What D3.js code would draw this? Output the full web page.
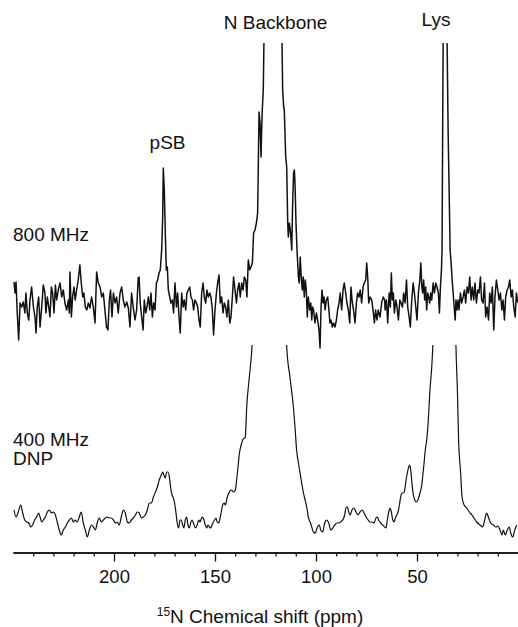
<!DOCTYPE html>
<html>
<head>
<meta charset="utf-8">
<script src="https://cdn.jsdelivr.net/npm/d3@7"></script>
<style>
  html, body { margin: 0; padding: 0; background: #fff; }
  svg { display: block; }
  text { font-family: "Liberation Sans", Arial, sans-serif; fill: #111; }
</style>
</head>
<body>
<svg id="chart" width="518" height="627"></svg>
<script>
// ---------- DATA ----------
// 800 MHz spectrum: chemical shift (ppm) and intensity (a.u.)
const shift800 = [
249.5,249.0,248.5,247.9,247.2,246.5,245.7,244.9,244.1,243.6,242.9,242.2,241.6,240.8,239.9,239.1,238.6,238.0,237.3,236.6,
235.8,235.0,234.2,233.7,233.0,232.3,231.7,231.0,230.4,229.7,229.0,228.4,227.6,226.7,225.9,225.1,224.3,223.4,222.6,222.1,
221.8,221.1,220.5,219.8,219.2,218.5,217.7,216.9,216.2,215.5,214.9,214.2,213.5,212.7,211.9,211.1,210.2,209.4,208.6,207.8,
206.9,206.1,205.3,204.5,203.7,203.0,202.3,201.7,201.0,200.3,199.5,198.7,197.9,197.0,196.2,195.4,194.6,193.7,192.9,192.1,
191.3,190.5,189.6,188.8,188.0,
187.6,187.0,186.3,185.6,185.0,184.3,183.7,183.0,182.3,181.7,181.0,180.4,179.7,179.0,178.4,177.7,177.1,176.4,175.9,175.6,
175.1,174.6,174.1,173.6,173.1,172.4,171.8,171.1,170.5,169.8,169.1,168.5,167.8,167.2,166.5,165.8,165.2,164.5,163.9,163.2,
162.5,161.9,161.2,160.6,159.9,159.2,158.6,157.9,157.3,156.6,155.9,155.3,154.6,154.0,153.3,152.6,152.0,151.3,150.7,150.0,
149.3,148.7,148.0,147.4,146.7,146.0,145.4,144.7,144.1,143.4,142.7,142.1,141.4,140.8,140.1,139.4,138.8,138.1,137.5,136.8,
136.1,135.5,134.8,134.2,133.5,132.8,132.2,131.5,130.9,130.2,129.5,
128.9,128.5,128.2,127.7,127.2,126.9,126.6,126.1,125.5,124.5,122.5,120.5,118.5,117.3,
116.5,116.0,115.7,115.0,114.5,114.0,113.7,113.2,112.7,112.0,111.6,111.1,110.7,110.4,109.9,109.4,108.7,108.3,107.8,107.3,
106.8,106.3,105.8,105.3,104.8,104.3,103.8,103.1,102.6,102.1,101.7,101.2,100.5,99.8,99.2,98.5,98.0,97.5,97.0,96.5,
96.0,95.5,94.9,94.2,93.6,93.1,92.6,91.9,91.3,90.6,89.9,89.3,88.6,88.0,87.3,86.6,86.0,85.3,84.7,84.0,
83.3,82.7,82.0,81.4,80.7,80.0,79.4,78.7,78.1,77.4,76.7,76.1,75.4,74.9,74.4,73.9,73.3,72.4,71.6,71.1,
70.5,69.8,69.2,68.3,67.5,66.7,66.0,
65.8,65.1,64.5,63.8,63.2,62.7,62.2,61.7,61.2,60.5,59.9,59.2,58.5,57.9,57.2,56.6,55.9,55.2,54.6,53.9,
53.3,52.6,51.9,51.3,50.6,50.0,49.3,48.6,48.1,47.6,47.2,46.7,46.2,45.7,45.2,44.7,44.2,43.7,43.2,42.7,
42.0,41.4,40.7,40.1,39.4,38.9,38.4,37.9,37.6,37.3,37.0,36.6,36.1,35.6,35.2,34.6,33.6,33.1,32.6,32.1,
31.6,31.1,30.7,30.2,29.7,29.2,28.5,27.9,27.2,26.5,25.9,25.2,24.5,23.9,23.2,22.6,21.9,21.3,20.6,19.9,
19.3,18.6,18.0,17.3,16.6,16.0,15.3,14.6,14.0,13.3,12.7,12.0,11.4,10.7,10.0,9.4,8.7,8.0,7.4,6.7,
6.1,5.4,4.7,4.1,3.4,2.8,2.1,1.4,0.8,0.1
];
const intensity800 = [
21,10,21,-10,-37,0,-4,1,-10,10,-10,-17,3,16,-4,-14,-30,-4,6,-24,
-4,18,10,-10,6,-4,-14,16,10,-10,18,3,13,20,6,13,0,-7,3,-10,
31,-14,6,16,3,13,23,38,20,6,10,-4,-7,0,-5,6,-5,-20,31,20,
16,6,10,-7,-24,-27,3,13,-14,10,0,6,-10,10,16,3,-4,1,-5,-24,
10,-4,-17,-7,25,
26,0,-14,-27,3,-10,-4,6,-7,10,-14,0,-7,20,23,30,33,53,86,135,
113,70,33,36,13,6,0,3,-10,20,-4,10,-14,-30,10,-4,3,-7,10,13,
16,6,3,-7,3,0,-4,-17,-24,10,20,6,0,13,6,10,6,-7,-32,-7,
10,20,28,0,6,-10,0,-4,-14,3,-20,-14,6,26,13,0,13,20,6,20,
13,26,23,6,43,33,36,40,70,73,80,
90,146,191,180,146,173,193,213,300,420,520,540,480,330,
213,196,193,146,136,80,66,80,73,53,96,130,133,120,80,53,26,20,46,26,
13,26,6,23,13,-14,6,-7,0,-17,-4,-7,-20,-10,-17,-27,-45,-4,13,0,
6,-7,3,6,-7,-20,-17,-24,-20,-24,-17,-7,0,10,-7,13,20,10,0,-7,
-20,16,0,-7,-20,0,10,6,13,0,16,20,23,40,26,0,6,3,-10,-20,
-7,-17,-7,-14,0,6,3,
-7,3,-20,10,-4,30,3,10,-10,3,-4,-17,3,0,-4,10,0,23,-4,-14,
-24,3,20,10,-4,-17,10,23,40,16,10,23,3,16,-7,10,6,0,10,3,
20,10,20,16,10,-10,16,33,53,173,280,500,620,480,280,173,53,40,23,10,
-4,-17,3,-7,3,-7,10,0,6,13,0,16,10,26,3,16,3,20,0,13,
10,26,3,0,20,-14,-4,-17,10,0,16,-27,6,23,13,3,10,-7,3,-17,
6,13,16,23,6,13,-4,-14,10,0
];

// 400 MHz DNP spectrum
const shift400 = [
249.5,248.5,247.4,246.2,245.2,244.2,243.2,242.2,241.2,240.3,239.3,238.3,237.3,236.6,235.8,235.0,234.0,233.0,232.0,231.0,
230.0,229.0,228.1,227.1,226.1,225.1,224.1,223.1,222.1,221.1,220.1,219.2,218.2,217.2,216.2,215.2,214.2,213.2,212.2,211.2,
210.2,209.2,208.2,207.3,206.3,205.3,204.3,203.3,202.3,201.3,200.3,199.3,198.4,197.4,196.4,195.4,194.4,193.4,192.4,191.4,
190.4,189.4,188.5,187.5,186.5,185.5,184.5,183.5,182.5,181.5,180.5,179.5,178.5,177.6,176.6,175.9,175.3,174.6,173.9,173.3,
172.6,172.0,171.3,170.6,170.0,169.3,168.7,168.0,167.3,166.7,166.0,165.4,164.7,164.0,163.4,162.7,162.1,161.4,160.7,159.7,
158.8,158.1,157.4,156.4,155.8,154.8,154.1,153.5,152.8,152.1,151.5,150.8,150.2,149.5,148.9,148.2,147.5,146.9,146.2,145.5,
144.9,143.9,142.9,141.9,140.9,139.9,139.3,138.6,137.9,137.3,136.3,135.0,134.3,133.0,131.7,130.5,128.0,125.0,121.0,117.0,
115.5,114.5,112.9,111.2,110.4,109.6,108.7,107.9,107.1,106.2,105.4,104.6,103.8,102.9,102.1,101.3,100.3,99.3,98.3,97.7,
96.7,95.7,94.7,93.7,92.7,91.7,90.7,89.7,88.8,87.8,86.8,85.8,85.1,84.5,83.8,83.1,82.2,81.2,80.2,79.2,
78.2,77.2,76.2,75.2,74.2,73.3,72.3,71.3,70.3,69.6,69.0,68.0,67.0,66.0,65.3,64.7,64.0,63.3,62.7,62.0,
61.4,60.7,60.0,59.4,58.7,58.1,57.4,56.7,56.1,55.4,54.8,54.1,53.6,53.1,52.5,51.8,51.1,50.5,49.8,49.2,
48.5,47.8,47.2,46.5,45.9,45.2,44.4,43.6,42.7,42.2,41.0,38.0,36.0,33.0,31.2,30.7,30.0,29.4,28.4,27.7,
26.7,25.4,24.1,22.8,21.8,20.5,18.8,17.5,16.5,15.5,14.5,13.5,12.2,10.9,9.9,8.9,7.9,7.3,6.3,5.3,
4.3,3.6,2.6,1.6,0.6
];
const intensity400 = [
10,3,8,15,7,0,-2,-3,-7,-5,0,3,7,3,-2,0,3,8,10,7,
8,5,-2,-10,-15,-10,-7,-3,0,2,-2,0,-2,3,8,-3,-10,-17,-10,-5,
-7,-10,-2,2,-2,0,2,3,2,2,0,-3,-2,-5,3,10,7,-2,-3,0,
2,5,8,7,2,3,5,10,17,17,23,28,33,40,45,48,45,42,48,48,
43,33,25,22,17,7,-3,-8,0,0,-5,-8,0,3,-5,-8,-3,0,-3,-8,
-5,0,-2,3,2,-5,-8,-5,-7,-8,-5,-2,0,2,-2,-3,2,8,15,17,
15,23,28,30,28,30,40,53,67,73,80,83,113,143,173,230,330,410,440,380,
240,173,143,113,93,70,57,47,37,27,20,13,3,-2,-7,-12,-13,-7,-5,-10,
-12,-3,0,-3,-10,-8,-5,-3,-3,-2,0,5,13,13,8,5,10,12,8,5,
8,10,7,3,0,-2,-2,-3,2,3,0,-3,-5,-7,-8,0,8,12,8,0,
-2,2,5,8,15,23,27,27,30,40,47,53,55,50,37,25,20,18,19,22,
27,33,43,57,70,80,100,130,153,173,260,420,450,380,230,173,130,80,47,23,
15,12,8,5,2,-2,-5,-7,0,7,2,-3,-5,-7,-6,-10,-15,-10,-15,-10,
-7,-13,-17,-10,-5
];

const majorTicks = [200, 150, 100, 50];
const minorTicks = [240, 230, 220, 210, 190, 180, 170, 160, 140, 130, 120, 110, 90, 80, 70, 60, 40, 30, 20, 10];
const axisTitle = { sup: "15", main: "N Chemical shift (ppm)" };
const peakLabels = [
  { text: "N Backbone", ppm: 120.0, row: "top" },
  { text: "Lys", ppm: 40.6, row: "top2" },
  { text: "pSB", ppm: 173.5, row: "psb" }
];
const traceLabels = [["800 MHz"], ["400 MHz", "DNP"]];

// ---------- CHART ----------
const svg = d3.select("#chart");
const x = d3.scaleLinear().domain([250, 0]).range([13, 518]);
const y800 = d3.scaleLinear().domain([0, 260]).range([303, 43]);
const y400 = d3.scaleLinear().domain([0, 175]).range([520, 345]);

const defs = svg.append("defs");
defs.append("clipPath").attr("id", "clip800").append("rect")
  .attr("x", 0).attr("y", y800(260)).attr("width", 518).attr("height", 400);
defs.append("clipPath").attr("id", "clip400").append("rect")
  .attr("x", 0).attr("y", y400(175)).attr("width", 518).attr("height", 220);

const d800 = shift800.map((s, i) => [s, intensity800[i]]);
const d400 = shift400.map((s, i) => [s, intensity400[i]]);

svg.append("path")
  .datum(d800)
  .attr("clip-path", "url(#clip800)")
  .attr("fill", "none")
  .attr("stroke", "#111")
  .attr("stroke-width", 1.5)
  .attr("stroke-linejoin", "round")
  .attr("d", d3.line().x(d => x(d[0])).y(d => y800(d[1])));

svg.append("path")
  .datum(d400)
  .attr("clip-path", "url(#clip400)")
  .attr("fill", "none")
  .attr("stroke", "#111")
  .attr("stroke-width", 1.2)
  .attr("stroke-linejoin", "round")
  .attr("d", d3.line().curve(d3.curveMonotoneX).x(d => x(d[0])).y(d => y400(d[1])));

// axes
const axisY = 552.5;
const gMinor = svg.append("g").attr("transform", `translate(0,${axisY})`)
  .call(d3.axisBottom(x).tickValues(minorTicks).tickSize(4).tickSizeOuter(0).tickFormat(""));
const gMajor = svg.append("g").attr("transform", `translate(0,${axisY})`)
  .call(d3.axisBottom(x).tickValues(majorTicks).tickSize(9).tickSizeOuter(0).tickPadding(8));
[gMinor, gMajor].forEach(g => {
  g.selectAll("path, line").attr("stroke", "#111").attr("stroke-width", 1.3);
});
gMajor.selectAll("text")
  .attr("font-size", "18.5px")
  .attr("font-family", '"Liberation Sans", Arial, sans-serif')
  .attr("fill", "#111");

// axis title
const title = svg.append("text")
  .attr("x", 260).attr("y", 623)
  .attr("text-anchor", "middle")
  .attr("font-size", "19px");
title.append("tspan").attr("font-size", "12px").attr("dy", "-7").text(axisTitle.sup);
title.append("tspan").attr("dy", "7").text(axisTitle.main);

// peak labels
const labelY = { top: 29, top2: 26, psb: 149 };
peakLabels.forEach(p => {
  svg.append("text")
    .attr("x", x(p.ppm))
    .attr("y", labelY[p.row])
    .attr("text-anchor", "middle")
    .attr("font-size", "19px")
    .text(p.text);
});

// trace labels
const traceY = [[241], [446, 465]];
traceLabels.forEach((lines, i) => {
  lines.forEach((t, j) => {
    svg.append("text")
      .attr("x", 13)
      .attr("y", traceY[i][j])
      .attr("font-size", "19px")
      .text(t);
  });
});
</script>
</body>
</html>
